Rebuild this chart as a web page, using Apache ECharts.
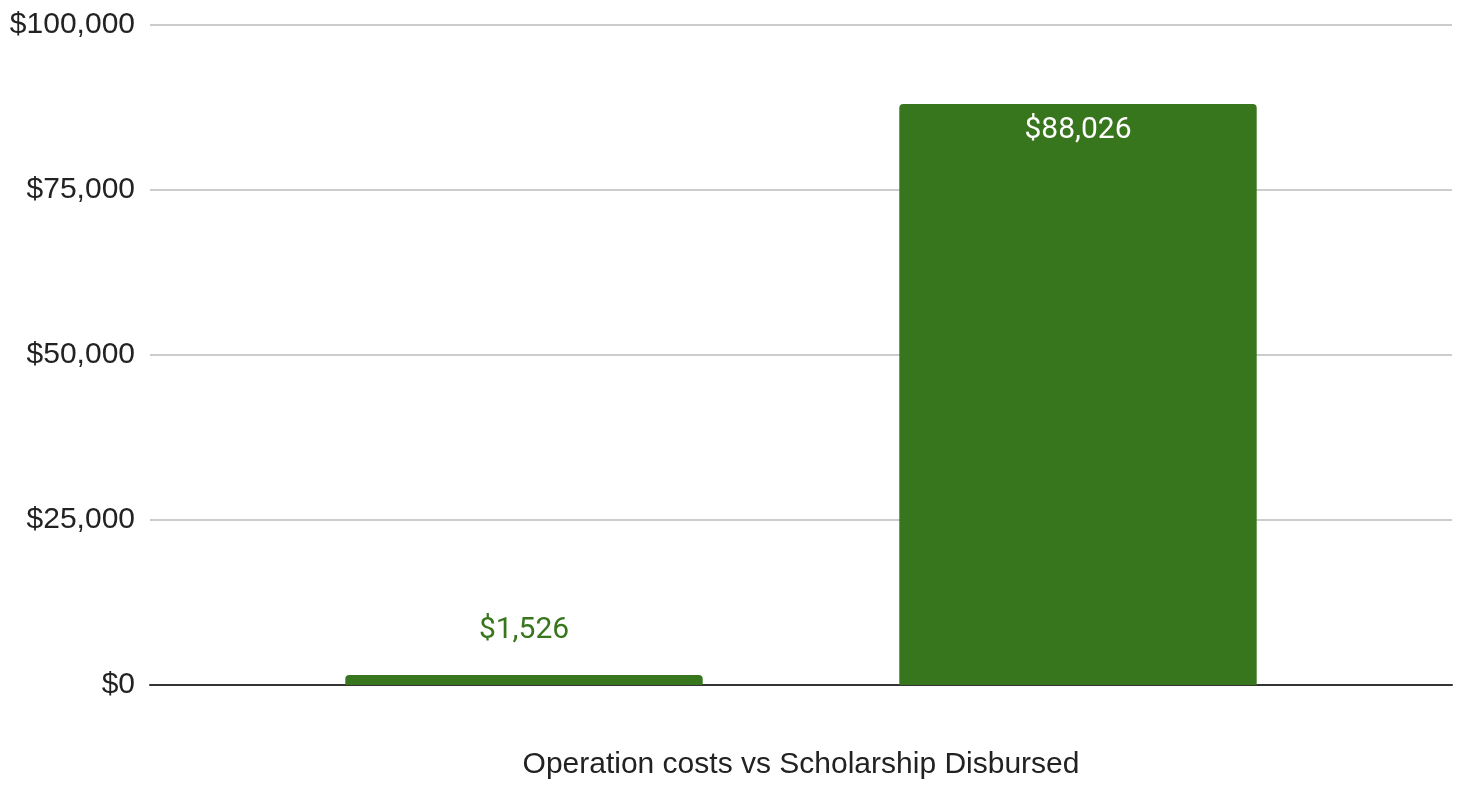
<!DOCTYPE html>
<html>
<head>
<meta charset="utf-8">
<script src="https://cdn.jsdelivr.net/npm/echarts@6/dist/echarts.min.js"></script>
<style>
  html, body { margin: 0; padding: 0; background: #ffffff; width: 100%; height: 100%; overflow: hidden; }
  #main { width: 100vw; height: 100vh; }
</style>
</head>
<body>
<div id="main"></div>
<script>
  // data
  var categories = ['Operation costs vs Scholarship Disbursed'];
  var seriesNames = ['Operation costs', 'Scholarship Disbursed'];
  var operationCosts = [1526];
  var scholarshipDisbursed = [88026];
  var yTicks = [0, 25000, 50000, 75000, 100000];

  var green = '#38761d';

  function money(v) {
    return '$' + Number(v).toLocaleString('en-US');
  }

  var myChart = echarts.init(document.getElementById('main'));

  var option = {
    animation: false,
    grid: { left: 150, right: 10, top: 25, bottom: 88, containLabel: false },
    xAxis: {
      type: 'category',
      data: categories,
      name: categories[0],
      nameLocation: 'middle',
      nameGap: 65,
      nameTextStyle: { fontFamily: 'Liberation Sans', fontSize: 30, color: '#222222' },
      axisLine: { lineStyle: { color: '#333333', width: 2 } },
      axisTick: { show: false },
      axisLabel: { show: false }
    },
    yAxis: {
      type: 'value',
      min: yTicks[0],
      max: yTicks[yTicks.length - 1],
      interval: 25000,
      axisLine: { show: false },
      axisTick: { show: false },
      axisLabel: {
        margin: 15,
        fontFamily: 'Liberation Sans',
        fontSize: 30,
        color: '#222222',
        formatter: function (v) { return money(v); }
      },
      splitLine: { lineStyle: { color: '#cccccc', width: 2 } }
    },
    series: [
      {
        name: seriesNames[0],
        type: 'bar',
        data: operationCosts,
        barCategoryGap: '30%',
        barGap: '55%',
        itemStyle: { color: green, borderRadius: [4, 4, 0, 0] },
        label: {
          show: true,
          position: 'top',
          distance: 29,
          fontFamily: 'Roboto',
          fontSize: 30,
          color: green,
          formatter: function (p) { return money(p.value); }
        }
      },
      {
        name: seriesNames[1],
        type: 'bar',
        data: scholarshipDisbursed,
        barCategoryGap: '30%',
        barGap: '55%',
        itemStyle: { color: green, borderRadius: [4, 4, 0, 0] },
        label: {
          show: true,
          position: 'insideTop',
          distance: 11,
          fontFamily: 'Roboto',
          fontSize: 30,
          color: '#ffffff',
          formatter: function (p) { return money(p.value); }
        }
      }
    ]
  };

  myChart.setOption(option);
  window.addEventListener('resize', function () {
    myChart.resize();
  });
</script>
</body>
</html>
